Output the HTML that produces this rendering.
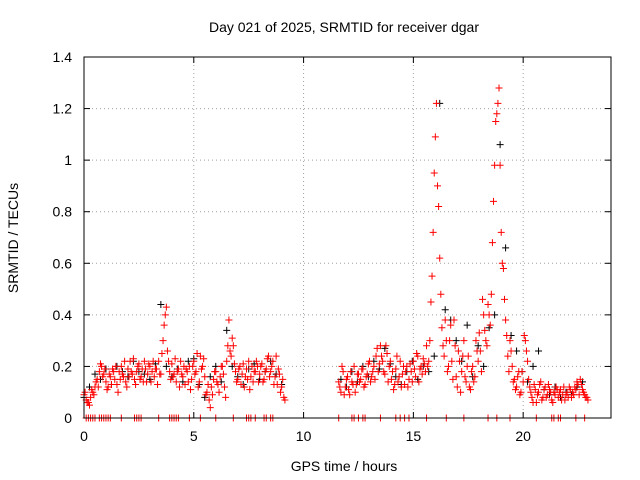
<!DOCTYPE html>
<html><head><meta charset="utf-8"><style>
html,body{margin:0;padding:0;background:#fff;}
svg{display:block;font-family:"Liberation Sans",sans-serif;}
</style></head><body>
<svg id="chart" width="640" height="480" viewBox="0 0 640 480">
<rect x="0" y="0" width="640" height="480" fill="#fff"/>
<g id="grid"></g>
<g id="marks"></g>
<rect x="84" y="57" width="527" height="361" fill="none" stroke="#000" stroke-width="1"/>
<g id="axes"></g>
<text x="344" y="32" text-anchor="middle" font-size="14">Day 021 of 2025, SRMTID for receiver dgar</text>
<text x="344" y="471" text-anchor="middle" font-size="14">GPS time / hours</text>
<text x="18" y="238" text-anchor="middle" font-size="14" transform="rotate(-90 18 238)">SRMTID / TECUs</text>
</svg>
<script>
const xTicks=[0,5,10,15,20];
const yTicks=[0,0.2,0.4,0.6,0.8,1,1.2,1.4];
const yTickLabels=["0","0.2","0.4","0.6","0.8","1","1.2","1.4"];
const step=0.1;
const seg1Start=0.0, seg2Start=11.6;
const redA1=[0.09,0.07,0.06,0.08,0.10,0.12,0.15,0.18,0.20,0.17,
0.14,0.12,0.16,0.19,0.15,0.13,0.18,0.20,0.16,0.14,
0.19,0.22,0.17,0.15,0.18,0.21,0.16,0.14,0.19,0.17,
0.20,0.18,0.16,0.19,0.22,0.17,0.30,0.40,0.26,0.18,
0.21,0.17,0.14,0.19,0.22,0.16,0.13,0.18,0.20,0.15,
0.22,0.18,0.12,0.24,0.20,0.16,0.10,0.07,0.12,0.15,
0.18,0.13,0.16,0.20,0.12,0.22,0.38,0.24,0.28,0.18,
0.15,0.20,0.17,0.12,0.19,0.22,0.16,0.14,0.18,0.20,
0.17,0.21,0.15,0.19,0.24,0.18,0.22,0.16,0.13,0.17,
0.12,0.08];
const redB1=[0.10,0.06,0.05,0.11,0.09,0.14,0.12,0.21,0.16,0.19,
0.11,0.17,0.13,0.18,0.20,0.10,0.15,0.17,0.22,0.12,
0.16,0.18,0.23,0.13,0.20,0.15,0.19,0.22,0.14,0.21,
0.14,0.22,0.19,0.13,0.17,0.25,0.36,0.43,0.22,0.15,
0.16,0.23,0.18,0.12,0.17,0.20,0.19,0.14,0.11,0.20,
0.17,0.25,0.14,0.19,0.23,0.09,0.13,0.04,0.09,0.18,
0.14,0.10,0.20,0.17,0.08,0.28,0.26,0.31,0.21,0.14,
0.19,0.13,0.21,0.16,0.15,0.11,0.20,0.18,0.22,0.14,
0.20,0.14,0.18,0.23,0.16,0.20,0.13,0.24,0.19,0.10,
0.15,0.07];
const redA2=[0.14,0.10,0.18,0.12,0.16,0.09,0.14,0.20,0.13,0.17,
0.15,0.19,0.13,0.17,0.22,0.16,0.20,0.24,0.18,0.28,
0.22,0.17,0.25,0.20,0.15,0.11,0.19,0.14,0.22,0.17,
0.13,0.20,0.15,0.18,0.22,0.16,0.24,0.19,0.17,0.21,
0.28,0.22,0.45,0.72,1.09,0.90,0.62,0.35,0.24,0.30,
0.20,0.36,0.15,0.28,0.12,0.22,0.18,0.30,0.14,0.24,
0.11,0.20,0.16,0.26,0.33,0.18,0.40,0.30,0.44,0.36,
0.68,0.98,1.18,1.28,0.72,0.58,0.38,0.24,0.30,0.20,
0.15,0.12,0.18,0.10,0.14,0.30,0.22,0.12,0.08,0.13,
0.06,0.10,0.14,0.08,0.12,0.09,0.11,0.07,0.10,0.12,
0.08,0.11,0.09,0.07,0.10,0.12,0.08,0.09,0.11,0.13,
0.15,0.11,0.09,0.08];
const redB2=[0.12,0.20,0.09,0.15,0.11,0.18,0.13,0.10,0.17,0.14,
0.19,0.12,0.16,0.21,0.14,0.18,0.15,0.27,0.21,0.24,
0.18,0.28,0.14,0.22,0.18,0.13,0.24,0.16,0.12,0.20,
0.18,0.12,0.21,0.14,0.19,0.25,0.14,0.20,0.23,0.18,
0.20,0.30,0.55,0.95,1.22,0.82,0.48,0.28,0.38,0.18,
0.30,0.22,0.38,0.16,0.26,0.10,0.24,0.16,0.20,0.12,
0.18,0.14,0.30,0.22,0.26,0.46,0.34,0.28,0.40,0.48,
0.84,1.15,1.22,0.98,0.60,0.46,0.32,0.18,0.26,0.14,
0.11,0.16,0.09,0.18,0.32,0.26,0.15,0.10,0.06,0.11,
0.09,0.13,0.07,0.11,0.08,0.13,0.10,0.06,0.09,0.11,
0.10,0.07,0.12,0.09,0.08,0.11,0.10,0.12,0.14,0.09,
0.13,0.10,0.08,0.07];
const blackStep=0.25, black1Start=0.0, black2Start=11.7;
const black1=[0.08,0.12,0.17,0.15,0.19,0.13,0.20,0.18,0.16,0.22,0.18,0.17,0.15,0.21,0.44,0.20,0.16,0.19,0.14,0.22,0.23,0.13,0.08,0.16,0.20,0.14,0.34,0.20,0.16,0.13,0.19,0.21,0.15,0.18,0.22,0.17,0.13];
const black2=[0.15,0.12,0.18,0.14,0.20,0.16,0.22,0.19,0.27,0.21,0.16,0.13,0.18,0.22,0.15,0.20,0.18,0.24,1.22,0.42,0.38,0.30,0.22,0.36,0.16,0.28,0.20,0.35,0.40,1.06,0.66,0.32,0.26,0.18,0.14,0.20,0.26,0.11,0.09,0.12,0.08,0.10,0.09,0.12,0.14];
const zeroTimes=[0.1,0.2,0.3,0.4,0.5,0.7,0.8,0.9,1.0,1.1,1.2,1.7,2.3,2.4,2.5,2.6,3.4,3.9,4.0,4.1,4.2,4.3,4.8,5.3,6.0,6.8,7.4,7.5,7.6,7.8,8.2,8.3,8.5,8.6,11.6,12.2,12.3,12.5,12.7,12.8,13.5,14.2,14.4,14.6,14.8,15.6,16.5,17.3,18.4,18.8,19.4,20.6,21.3,21.4,21.6,21.7,22.4,22.8];

const X0=84,X1=611,Y0=418,Y1=57;
function xs(h){return X0+(h/24)*(X1-X0);}
function ys(v){return Y0-(v/1.4)*(Y0-Y1);}
const NS="http://www.w3.org/2000/svg";
const grid=document.getElementById('grid'),axes=document.getElementById('axes'),marks=document.getElementById('marks');
xTicks.forEach(t=>{
  const x=xs(t);
  if(t>0){const g=document.createElementNS(NS,'line');
  g.setAttribute('x1',x);g.setAttribute('x2',x);g.setAttribute('y1',Y1);g.setAttribute('y2',Y0);
  g.setAttribute('stroke','#a0a0a0');g.setAttribute('stroke-dasharray','1,3');
  
  
  grid.appendChild(g);}
  [[Y0,Y0-6],[Y1,Y1+6]].forEach(p=>{const l=document.createElementNS(NS,'line');
  l.setAttribute('x1',x);l.setAttribute('x2',x);l.setAttribute('y1',p[0]);l.setAttribute('y2',p[1]);l.setAttribute('stroke','#000');
  
  
  axes.appendChild(l);});
  const tx=document.createElementNS(NS,'text');
  tx.setAttribute('x',x);tx.setAttribute('y',Y0+23);tx.setAttribute('text-anchor','middle');tx.setAttribute('font-size','14');
  tx.textContent=String(t);
  
  
  axes.appendChild(tx);
});
yTicks.forEach((t,i)=>{
  const y=ys(t);
  if(t>0&&t<1.4){const g=document.createElementNS(NS,'line');
  g.setAttribute('x1',X0);g.setAttribute('x2',X1);g.setAttribute('y1',y);g.setAttribute('y2',y);
  g.setAttribute('stroke','#a0a0a0');g.setAttribute('stroke-dasharray','1,3');
  
  
  grid.appendChild(g);}
  [[X0,X0+6],[X1,X1-6]].forEach(p=>{const l=document.createElementNS(NS,'line');
  l.setAttribute('x1',p[0]);l.setAttribute('x2',p[1]);l.setAttribute('y1',y);l.setAttribute('y2',y);l.setAttribute('stroke','#000');
  
  
  axes.appendChild(l);});
  const tx=document.createElementNS(NS,'text');
  tx.setAttribute('x',X0-12);tx.setAttribute('y',y+5);tx.setAttribute('text-anchor','end');tx.setAttribute('font-size','14');
  tx.textContent=yTickLabels[i];
  
  
  axes.appendChild(tx);
});
function plus(h,v,color,name){
  const x=xs(h),y=ys(v);
  const p=document.createElementNS(NS,'path');
  p.setAttribute('d','M'+(x-3.5)+' '+y+'H'+(x+3.5)+'M'+x+' '+(y-3.5)+'V'+(y+3.5));
  p.setAttribute('stroke',color);p.setAttribute('stroke-width','1');
  
  
  marks.appendChild(p);
}
black1.forEach((v,i)=>plus(black1Start+i*blackStep,v,'#000','black-point'));
black2.forEach((v,i)=>plus(black2Start+i*blackStep,v,'#000','black-point'));
redA1.forEach((v,i)=>plus(seg1Start+i*step,v,'#ff0000','red-point'));
redB1.forEach((v,i)=>plus(seg1Start+0.05+i*step,v,'#ff0000','red-point'));
redA2.forEach((v,i)=>plus(seg2Start+i*step,v,'#ff0000','red-point'));
redB2.forEach((v,i)=>plus(seg2Start+0.05+i*step,v,'#ff0000','red-point'));
zeroTimes.forEach(t=>plus(t,0,'#ff0000','zero-point'));
</script>
</body></html>
